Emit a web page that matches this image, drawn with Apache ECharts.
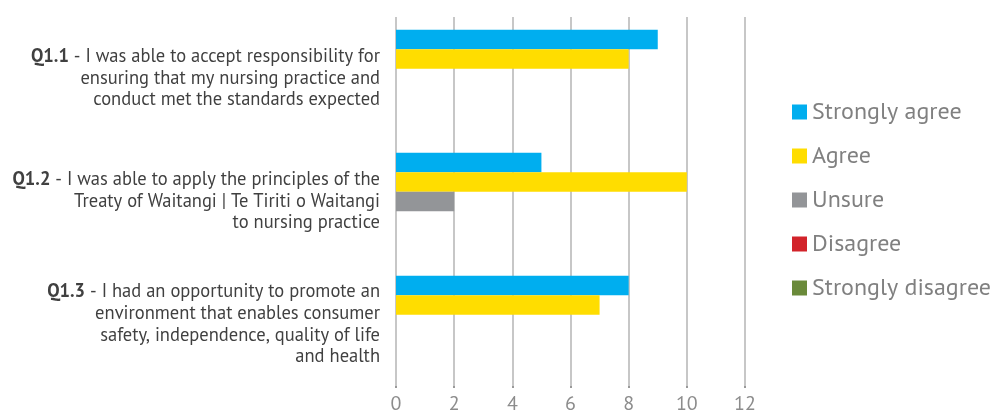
<!DOCTYPE html>
<html>
<head>
<meta charset="utf-8">
<script src="https://cdn.jsdelivr.net/npm/echarts@6/dist/echarts.min.js"></script>
<style>
  html, body { margin: 0; padding: 0; background: #ffffff; }
  #chart { width: 1005px; height: 416px; }
</style>
</head>
<body>
<div id="chart"></div>
<script>
// Survey questions (bold code + statement, pre-wrapped lines)
const questionCodes = ['Q1.1', 'Q1.2', 'Q1.3'];
const questionTexts = [
  ' - I was able to accept responsibility for\nensuring that my nursing practice and\nconduct met the standards expected',
  ' - I was able to apply the principles of the\nTreaty of Waitangi | Te Tiriti o Waitangi\nto nursing practice',
  ' - I had an opportunity to promote an\nenvironment that enables consumer\nsafety, independence, quality of life\nand health'
];

// Response counts per question
const seriesNames = ['Strongly agree', 'Agree', 'Unsure', 'Disagree', 'Strongly disagree'];
const stronglyAgree = [9, 5, 8];
const agree = [8, 10, 7];
const unsure = [0, 2, 0];
const disagree = [0, 0, 0];
const stronglyDisagree = [0, 0, 0];
const seriesColors = ['#00AEEF', '#FFDD00', '#939598', '#D2232A', '#6A8A3A'];

// X axis range
const xMin = 0, xMax = 12, xStep = 2;

const seriesData = [stronglyAgree, agree, unsure, disagree, stronglyDisagree];

const chart = echarts.init(document.getElementById('chart'), null, { renderer: 'canvas' });

const font = '"PT Sans", "Open Sans", "Noto Sans", sans-serif';

chart.setOption({
  animation: false,
  textStyle: { fontFamily: font },
  grid: { left: 396, right: 260, top: 17, bottom: 30, containLabel: false },
  legend: {
    orient: 'vertical',
    left: 792,
    top: 100,
    padding: 0,
    itemWidth: 15,
    itemHeight: 15,
    itemGap: 20,
    icon: 'rect',
    data: seriesNames,
    textStyle: { fontSize: 24, lineHeight: 24, color: '#808080', fontFamily: font }
  },
  xAxis: {
    type: 'value',
    min: xMin,
    max: xMax,
    interval: xStep,
    axisLine: { show: false },
    axisTick: { show: true, length: 2, lineStyle: { color: '#999999', width: 2 } },
    axisLabel: { fontSize: 20, color: '#8c8c8c', margin: 8, fontFamily: font },
    splitLine: { show: true, lineStyle: { color: '#b5b5b5', width: 1.5 } }
  },
  yAxis: {
    type: 'category',
    inverse: true,
    data: questionCodes,
    axisLine: { show: false },
    axisTick: { show: false },
    axisLabel: {
      margin: 16,
      align: 'right',
      formatter: function (value, idx) {
        return '{b|' + value + '}{n|' + questionTexts[idx].split('\n').join('}\n{n|') + '}';
      },
      rich: {
        b: { fontWeight: 'bold', fontSize: 18.5, color: '#404040', lineHeight: 21.7, fontFamily: font, align: 'right' },
        n: { fontSize: 18.5, color: '#404040', lineHeight: 21.7, fontFamily: font, align: 'right' }
      }
    }
  },
  series: seriesNames.map(function (name, i) {
    return {
      name: name,
      type: 'bar',
      data: seriesData[i],
      barWidth: 19.5,
      barGap: '0%',
      itemStyle: { color: seriesColors[i] }
    };
  })
});
</script>
</body>
</html>
